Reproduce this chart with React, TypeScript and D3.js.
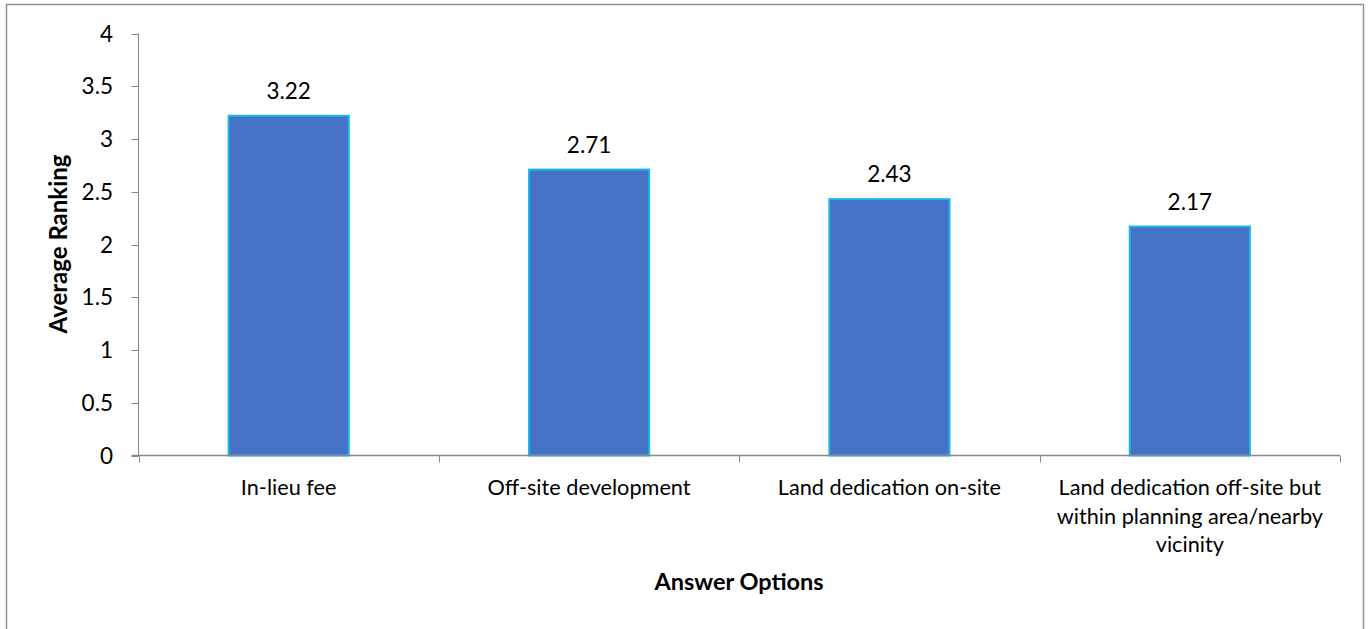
import React from "react";
import * as d3 from "d3";

const categories = [
  "In-lieu fee",
  "Off-site development",
  "Land dedication on-site",
  "Land dedication off-site but within planning area/nearby vicinity",
];
const categoryLines = [
  ["In-lieu fee"],
  ["Off-site development"],
  ["Land dedication on-site"],
  ["Land dedication off-site but", "within planning area/nearby", "vicinity"],
];
const values = [3.22, 2.71, 2.43, 2.17];
const yTicks = [0, 0.5, 1, 1.5, 2, 2.5, 3, 3.5, 4];
const yTitle = "Average Ranking";
const xTitle = "Answer Options";

const W = 1369;
const H = 629;
const FONT = "Lato, 'Open Sans', sans-serif";

export default function App() {
  const left = 138.5;
  const right = 1340;
  const top = 33.5;
  const bottom = 455.5;
  const y = d3.scaleLinear().domain([0, 4]).range([bottom, top]);
  const x = d3
    .scaleBand<string>()
    .domain(categories)
    .range([left, right])
    .paddingInner(0.6)
    .paddingOuter(0.3);
  const step = x.step();
  const axisColor = "#898989";
  const boundaries = d3.range(categories.length + 1).map((i) => left + i * step);

  return (
    <svg width={W} height={H} style={{ position: "absolute", left: 0, top: 0, background: "#fff" }} fontFamily={FONT}>
      <rect x={0} y={0} width={W} height={H} fill="#fff" />
      <rect x={6.5} y={4.5} width={1357} height={700} fill="none" stroke="#959595" strokeWidth={1.5} />
      {/* bars */}
      {categories.map((c, i) => (
        <rect
          key={c}
          x={x(c)!}
          y={y(values[i])}
          width={x.bandwidth()}
          height={y(0) - y(values[i])}
          fill="#4472C4"
          stroke="#1EB4EC"
          strokeWidth={2}
        />
      ))}
      {/* y axis */}
      <line x1={left} x2={left} y1={top} y2={bottom} stroke={axisColor} strokeWidth={1} />
      {yTicks.map((t) => (
        <g key={t}>
          <line x1={left - 7} x2={left} y1={Math.round(y(t)) + 0.5} y2={Math.round(y(t)) + 0.5} stroke={axisColor} />
          <text x={113} y={y(t) + 8} textAnchor="end" fontSize={22.5} fill="#000">
            {d3.format("")(t)}
          </text>
        </g>
      ))}
      {/* x axis */}
      <line x1={left - 7} x2={right} y1={bottom} y2={bottom} stroke={axisColor} strokeWidth={1.5} />
      {boundaries.map((b, i) => (
        <line key={i} x1={Math.round(b) + 0.5} x2={Math.round(b) + 0.5} y1={bottom} y2={bottom + 7} stroke={axisColor} />
      ))}
      {/* category labels */}
      {categories.map((c, i) => (
        <text key={c} textAnchor="middle" fontSize={21.7} fill="#000">
          {categoryLines[i].map((ln, j) => (
            <tspan key={j} x={x(c)! + x.bandwidth() / 2} y={495 + j * 28.5}>
              {ln}
            </tspan>
          ))}
        </text>
      ))}
      {/* data labels */}
      {categories.map((c, i) => (
        <text key={c} x={x(c)! + x.bandwidth() / 2} y={y(values[i]) - 17} textAnchor="middle" fontSize={22.5} fill="#000">
          {values[i].toFixed(2)}
        </text>
      ))}
      {/* titles */}
      <text transform={`translate(67,244) rotate(-90)`} textAnchor="middle" fontSize={24} fontWeight="bold" fill="#000">
        {yTitle}
      </text>
      <text x={739} y={590} textAnchor="middle" fontSize={23.5} fontWeight="bold" fill="#000">
        {xTitle}
      </text>
    </svg>
  );
}
